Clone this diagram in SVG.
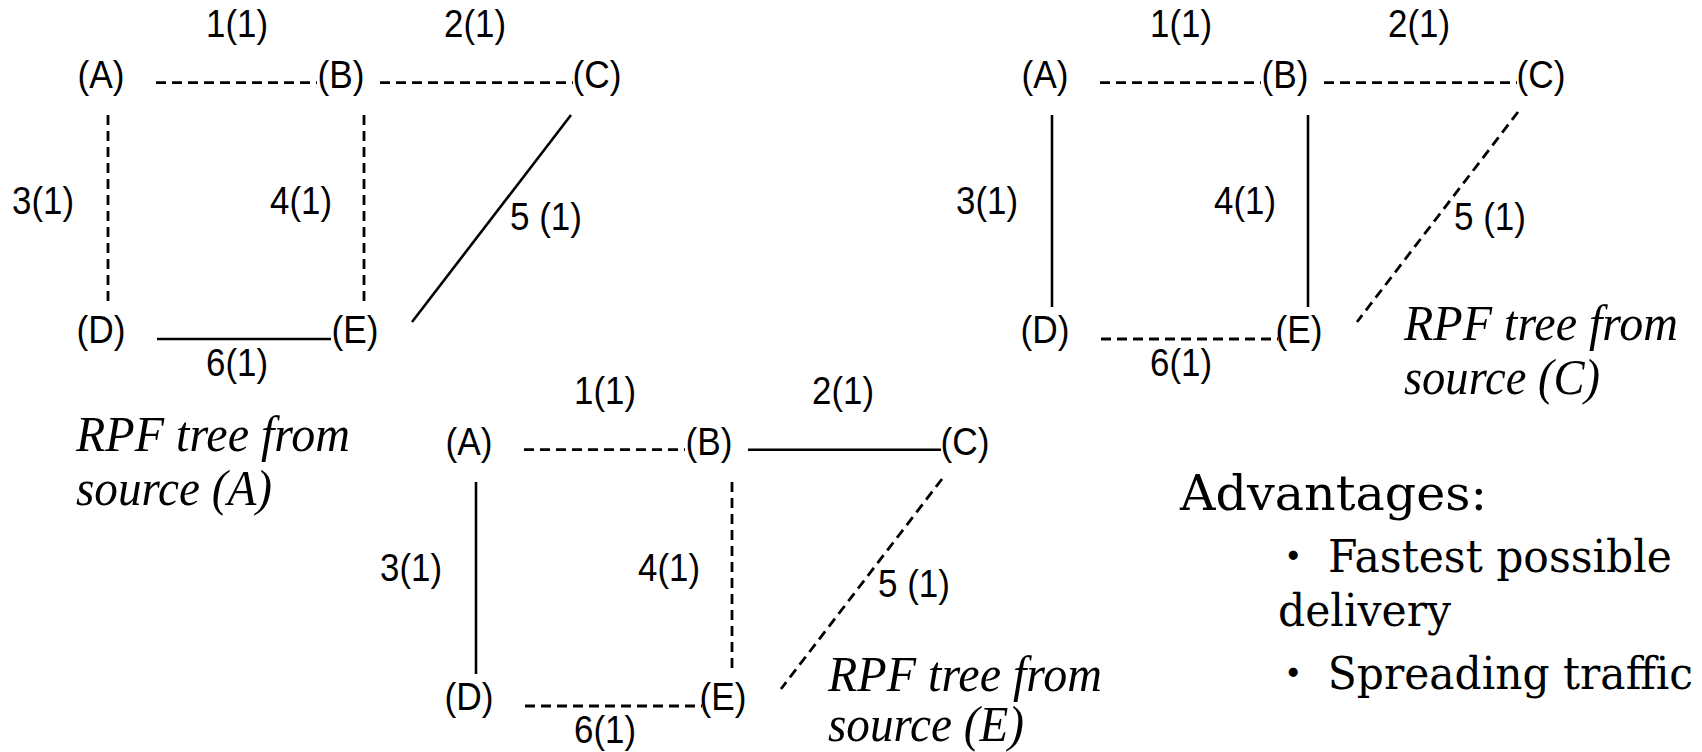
<svg xmlns="http://www.w3.org/2000/svg" width="1702" height="752" viewBox="0 0 1702 752">
<style>
.lbl{font-family:"Liberation Sans",Arial,sans-serif;font-size:39px;fill:#000;text-anchor:middle}
.solid{stroke:#000;stroke-width:2.6;fill:none}
.dash{stroke:#000;stroke-width:2.8;stroke-dasharray:10 6;fill:none}
.cap{font-family:"Liberation Serif","Times New Roman",serif;font-style:italic;font-size:50px;fill:#000}
.adv{font-family:"DejaVu Serif","Noto Sans CJK JP",serif;fill:#000}
</style>
<defs>
  <g id="labels">
    <text class="lbl" x="237" y="37" textLength="62" lengthAdjust="spacingAndGlyphs">1(1)</text>
    <text class="lbl" x="475" y="37" textLength="62" lengthAdjust="spacingAndGlyphs">2(1)</text>
    <text class="lbl" x="43" y="214" textLength="62" lengthAdjust="spacingAndGlyphs">3(1)</text>
    <text class="lbl" x="301" y="214" textLength="62" lengthAdjust="spacingAndGlyphs">4(1)</text>
    <text class="lbl" x="546" y="230" textLength="72" lengthAdjust="spacingAndGlyphs">5 (1)</text>
    <text class="lbl" x="237" y="376" textLength="62" lengthAdjust="spacingAndGlyphs">6(1)</text>
  </g>
</defs>
<rect width="1702" height="752" fill="#fff"/>

<!-- Graph 1: RPF tree from source (A) -->
<g id="graph1">
  <g id="g1-connectors">
    <path class="dash" d="M156 82.7H317"/>
    <path class="dash" d="M380 82.7H573"/>
    <path class="dash" d="M108 115V307"/>
    <path class="dash" d="M364 115V307"/>
    <path class="solid" d="M571 115L412 322"/>
    <path class="solid" d="M157 339H331"/>
    <use href="#labels"/>
  </g>
  <g id="g1-A"><text class="lbl" x="101" y="88" textLength="47" lengthAdjust="spacingAndGlyphs">(A)</text></g>
  <g id="g1-B"><text class="lbl" x="341" y="88" textLength="47" lengthAdjust="spacingAndGlyphs">(B)</text></g>
  <g id="g1-C"><text class="lbl" x="597" y="88" textLength="49" lengthAdjust="spacingAndGlyphs">(C)</text></g>
  <g id="g1-D"><text class="lbl" x="101" y="343" textLength="49" lengthAdjust="spacingAndGlyphs">(D)</text></g>
  <g id="g1-E"><text class="lbl" x="355" y="343" textLength="47" lengthAdjust="spacingAndGlyphs">(E)</text></g>
</g>
<g id="caption1">
  <text class="cap" x="76" y="451" textLength="274" lengthAdjust="spacingAndGlyphs">RPF tree from</text>
  <text class="cap" x="76" y="505" textLength="196" lengthAdjust="spacingAndGlyphs">source (A)</text>
</g>

<!-- Graph 2: RPF tree from source (C) -->
<g id="graph2" transform="translate(944,0)">
  <g id="g2-connectors">
    <path class="dash" d="M156 82.7H317"/>
    <path class="dash" d="M380 82.7H573"/>
    <path class="solid" d="M108 115V307"/>
    <path class="solid" d="M364 115V307"/>
    <path class="dash" d="M574 112L413 322"/>
    <path class="dash" d="M157 339H334"/>
    <use href="#labels"/>
  </g>
  <g id="g2-A"><text class="lbl" x="101" y="88" textLength="47" lengthAdjust="spacingAndGlyphs">(A)</text></g>
  <g id="g2-B"><text class="lbl" x="341" y="88" textLength="47" lengthAdjust="spacingAndGlyphs">(B)</text></g>
  <g id="g2-C"><text class="lbl" x="597" y="88" textLength="49" lengthAdjust="spacingAndGlyphs">(C)</text></g>
  <g id="g2-D"><text class="lbl" x="101" y="343" textLength="49" lengthAdjust="spacingAndGlyphs">(D)</text></g>
  <g id="g2-E"><text class="lbl" x="355" y="343" textLength="47" lengthAdjust="spacingAndGlyphs">(E)</text></g>
</g>
<g id="caption2">
  <text class="cap" x="1404" y="340" textLength="274" lengthAdjust="spacingAndGlyphs">RPF tree from</text>
  <text class="cap" x="1404" y="394" textLength="196" lengthAdjust="spacingAndGlyphs">source (C)</text>
</g>

<!-- Graph 3: RPF tree from source (E) -->
<g id="graph3" transform="translate(368,367)">
  <g id="g3-connectors">
    <path class="dash" d="M156 82.7H317"/>
    <path class="solid" d="M380 82.7H573"/>
    <path class="solid" d="M108 115V307"/>
    <path class="dash" d="M364 115V307"/>
    <path class="dash" d="M574 112L413 322"/>
    <path class="dash" d="M157 339H334"/>
    <use href="#labels"/>
  </g>
  <g id="g3-A"><text class="lbl" x="101" y="88" textLength="47" lengthAdjust="spacingAndGlyphs">(A)</text></g>
  <g id="g3-B"><text class="lbl" x="341" y="88" textLength="47" lengthAdjust="spacingAndGlyphs">(B)</text></g>
  <g id="g3-C"><text class="lbl" x="597" y="88" textLength="49" lengthAdjust="spacingAndGlyphs">(C)</text></g>
  <g id="g3-D"><text class="lbl" x="101" y="343" textLength="49" lengthAdjust="spacingAndGlyphs">(D)</text></g>
  <g id="g3-E"><text class="lbl" x="355" y="343" textLength="47" lengthAdjust="spacingAndGlyphs">(E)</text></g>
</g>
<g id="caption3">
  <text class="cap" x="828" y="691" textLength="274" lengthAdjust="spacingAndGlyphs">RPF tree from</text>
  <text class="cap" x="828" y="741" textLength="196" lengthAdjust="spacingAndGlyphs">source (E)</text>
</g>

<!-- Advantages -->
<g id="advantages">
  <text class="adv" x="1180" y="510" font-size="49" textLength="307" lengthAdjust="spacingAndGlyphs">Advantages:</text>
  <text class="adv" x="1272" y="572" font-size="44" textLength="400" lengthAdjust="spacingAndGlyphs">・ Fastest possible</text>
  <text class="adv" x="1278" y="626" font-size="44" textLength="173" lengthAdjust="spacingAndGlyphs">delivery</text>
  <text class="adv" x="1272" y="689" font-size="44" textLength="421" lengthAdjust="spacingAndGlyphs">・ Spreading traffic</text>
</g>
</svg>
